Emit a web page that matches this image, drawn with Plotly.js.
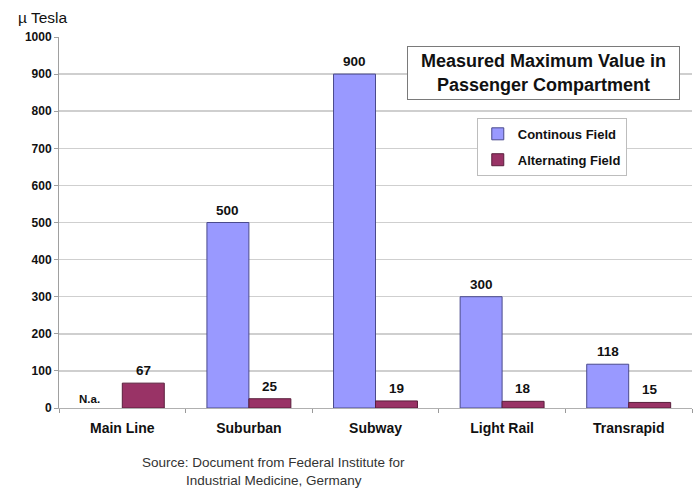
<!DOCTYPE html>
<html>
<head>
<meta charset="utf-8">
<script src="https://cdn.plot.ly/plotly-3.0.1.min.js"></script>
<style>
  html, body { margin: 0; padding: 0; background: #fff; }
  #chart { width: 698px; height: 489px; }
</style>
</head>
<body>
<div id="chart"></div>
<script>
// Measured maximum magnetic field values (µT) by railway type
const categories = ["Main Line", "Suburban", "Subway", "Light Rail", "Transrapid"];
const continuousField = [null, 500, 900, 300, 118];
const alternatingField = [67, 25, 19, 18, 15];
const seriesNames = ["Continous Field", "Alternating Field"];
const yTicks = [0, 100, 200, 300, 400, 500, 600, 700, 800, 900, 1000];
const sourceLines = ["Source: Document from Federal Institute for", "Industrial Medicine, Germany"];

const FONT = "Liberation Sans, Arial, sans-serif";

const traces = [
  {
    type: "bar",
    name: seriesNames[0],
    x: categories,
    y: continuousField,
    legendgroup: "a",
    marker: { color: "#9999ff", line: { color: "#4a4a8c", width: 1 } },
    hoverinfo: "x+y"
  },
  {
    type: "bar",
    name: seriesNames[1],
    x: categories,
    y: alternatingField,
    legendgroup: "b",
    marker: { color: "#993366", line: { color: "#5a1f3c", width: 1 } },
    hoverinfo: "x+y"
  }
];

// value labels above each bar, offset to the bar's slot within its group
const annotations = [];
const slot = 21;
[continuousField, alternatingField].forEach((vals, si) => {
  vals.forEach((v, i) => {
    if (v === null) return;
    annotations.push({
      x: categories[i], y: v, xref: "x", yref: "y",
      xshift: si === 0 ? -slot : slot, yshift: 3,
      yanchor: "bottom", showarrow: false,
      text: String(v),
      font: { family: FONT, size: 13.5, color: "#111", weight: 700 }
    });
  });
});
// missing continuous value for Main Line
annotations.push({
  x: categories[0], y: 0, xref: "x", yref: "y",
  xshift: -33, yshift: 1, yanchor: "bottom", showarrow: false,
  text: "N.a.",
  font: { family: FONT, size: 11.5, color: "#111", weight: 700 }
});
// boxed chart title
annotations.push({
  x: 0.765, y: 0.904, xref: "paper", yref: "paper",
  xanchor: "center", yanchor: "middle", showarrow: false,
  text: "Measured Maximum Value in<br>Passenger Compartment",
  align: "center",
  width: 263, height: 44,
  bgcolor: "#ffffff", bordercolor: "#7a7a7a", borderwidth: 1, borderpad: 4,
  font: { family: FONT, size: 18, color: "#111", weight: 700 }
});
// unit label
annotations.push({
  x: -0.068, y: 1.052, xref: "paper", yref: "paper",
  xanchor: "left", yanchor: "middle", showarrow: false,
  text: "µ Tesla",
  font: { family: FONT, size: 15.5, color: "#111" }
});
// source note, one annotation per line
sourceLines.forEach((line, k) => {
  annotations.push({
    x: 0.339, y: -0.148 - k * 0.0485, xref: "paper", yref: "paper",
    xanchor: "center", yanchor: "middle", showarrow: false,
    text: line,
    font: { family: FONT, size: 13.5, color: "#333" }
  });
});

const layout = {
  width: 698, height: 489,
  margin: { l: 59, r: 6, t: 37, b: 81 },
  paper_bgcolor: "#ffffff",
  plot_bgcolor: "#ffffff",
  barmode: "group",
  bargap: 0.337,
  bargroupgap: 0,
  showlegend: true,
  legend: {
    x: 0.66, y: 0.782, xanchor: "left", yanchor: "top",
    bgcolor: "#ffffff", bordercolor: "#bdbdbd", borderwidth: 1,
    traceorder: "grouped", tracegroupgap: 6,
    font: { family: FONT, size: 13, color: "#111", weight: 700 }
  },
  xaxis: {
    type: "category",
    categoryorder: "array", categoryarray: categories,
    showline: true, linecolor: "#b0b0b0", linewidth: 1,
    ticks: "outside", tickson: "boundaries", ticklen: 4, tickcolor: "#9a9a9a",
    ticklabelstandoff: 7,
    showgrid: false, zeroline: false,
    tickfont: { family: FONT, size: 14, color: "#111", weight: 700 },
    fixedrange: true
  },
  yaxis: {
    range: [0, 1000],
    tickmode: "array", tickvals: yTicks, ticktext: yTicks.map(String),
    showline: true, linecolor: "#a0a0a0", linewidth: 1,
    ticks: "outside", ticklen: 4, tickcolor: "#a0a0a0",
    showgrid: true, gridcolor: "#cfcfcf", gridwidth: 1.5,
    zeroline: false,
    tickfont: { family: FONT, size: 12, color: "#111", weight: 700 },
    fixedrange: true
  },
  annotations: annotations,
  font: { family: FONT }
};

Plotly.newPlot("chart", traces, layout, { displayModeBar: false, staticPlot: true });
</script>
</body>
</html>
